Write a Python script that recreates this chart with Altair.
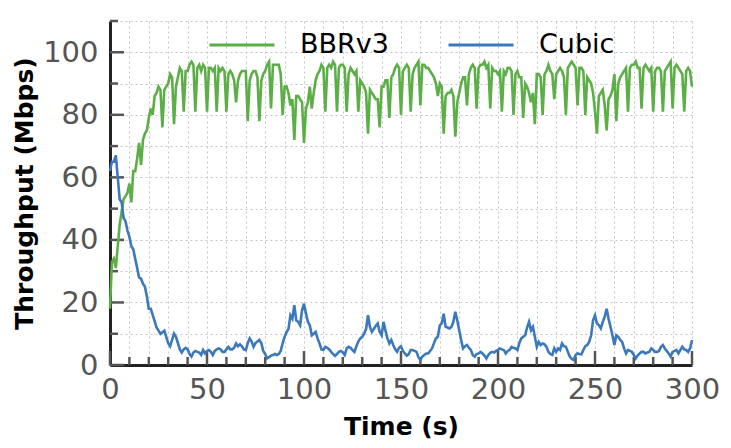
"""Throughput of a BBRv3 flow and a Cubic flow sharing a bottleneck."""

import altair as alt
import pandas as pd

# throughput per second, Mbps
bbr = [
    18, 33, 34, 31, 38, 45, 49, 53, 54, 55,
    58, 52, 62, 62, 66, 71, 64, 72, 74, 75,
    79, 82, 80, 86, 87, 89, 88, 76, 88, 89,
    90, 93, 92, 77, 89, 92, 95, 94, 81, 94,
    94, 96, 97, 96, 81, 95, 96, 94, 96, 95,
    81, 95, 95, 94, 95, 81, 95, 94, 95, 94,
    81, 93, 94, 93, 91, 84, 91, 93, 94, 94,
    94, 78, 91, 93, 94, 94, 92, 78, 91, 93,
    94, 96, 97, 82, 96, 96, 96, 96, 93, 80,
    89, 89, 87, 83, 85, 72, 86, 86, 85, 84,
    71, 82, 84, 89, 82, 87, 91, 93, 94, 96,
    95, 81, 95, 96, 95, 97, 96, 81, 95, 96,
    96, 95, 81, 93, 95, 94, 93, 94, 81, 91,
    90, 89, 87, 74, 88, 87, 86, 85, 85, 76,
    89, 89, 91, 91, 79, 92, 93, 95, 96, 95,
    80, 94, 95, 96, 95, 81, 93, 95, 96, 97,
    83, 96, 96, 95, 95, 94, 93, 92, 90, 86,
    90, 89, 74, 86, 87, 87, 88, 86, 73, 84,
    87, 90, 92, 92, 83, 93, 95, 96, 95, 82,
    95, 96, 96, 97, 95, 96, 82, 95, 94, 94,
    93, 94, 81, 94, 93, 95, 95, 94, 80, 93,
    94, 92, 92, 79, 90, 89, 87, 84, 87, 77,
    93, 93, 92, 80, 93, 94, 96, 94, 93, 85,
    93, 94, 95, 94, 92, 80, 95, 96, 97, 96,
    95, 83, 95, 95, 94, 80, 92, 91, 90, 87,
    81, 74, 86, 87, 88, 83, 75, 85, 86, 88,
    93, 78, 90, 92, 93, 94, 95, 81, 95, 96,
    96, 97, 95, 95, 82, 95, 96, 95, 94, 95,
    81, 94, 95, 95, 94, 81, 94, 95, 96, 97,
    82, 95, 96, 95, 94, 93, 81, 94, 95, 94,
    89,
]

cubic = [
    62, 65, 65, 67, 60, 53, 52, 47, 46, 43,
    41, 38, 37, 34, 31, 28, 27.6, 26, 25, 22,
    18, 18, 16, 14, 12, 11, 10, 10.5, 11, 9,
    7, 6, 8, 10, 9, 7, 5, 4, 5, 5.5,
    5, 3.5, 2.7, 4, 4.5, 4.2, 4, 3.2, 4.8, 3.7,
    4.5, 4.8, 4.2, 3.2, 4.5, 5, 5.3, 5, 4.2, 4.2,
    5, 5.8, 5, 5, 5.5, 6.9, 6, 6.6, 6, 5,
    4.8, 7, 8.5, 7.5, 5.8, 7, 7.5, 8, 7, 4.5,
    3.5, 2.1, 2.5, 3, 3.2, 3.5, 3.2, 3.5, 4.5, 6.9,
    9, 10.5, 11.5, 15.9, 14.8, 19.1, 14.3, 13.8, 12.7, 17.5,
    19.6, 16.5, 13.8, 12.7, 9.5, 10, 10.6, 8.5, 6.9, 5,
    4.8, 5.8, 5.5, 5, 4.2, 3.5, 2.9, 3.5, 4.2, 4.5,
    4, 3.2, 5.3, 5.8, 5.5, 4.8, 4.2, 6, 7.5, 8.5,
    9, 10, 11.5, 15.9, 12.2, 10.6, 11.5, 12.5, 13.3, 10.6,
    9.5, 13.8, 11, 8.5, 6.9, 8, 6.4, 5, 4.2, 5.5,
    6, 4.5, 3.7, 3, 3.5, 4.8, 4.8, 4.5, 4.2, 2.5,
    1.6, 2.7, 3.2, 3.7, 3.7, 4.5, 5.3, 7, 8.5, 9,
    12.7, 13.3, 16.4, 12.2, 12, 11.7, 12.2, 13.8, 17, 14.3,
    11.1, 8, 5.3, 6, 6.4, 5.5, 4.8, 3.2, 2.7, 3.5,
    3.7, 4.2, 3.7, 3, 2.1, 3.2, 3.9, 4.2, 4, 4.5,
    4.8, 5.3, 5, 4.8, 3.7, 4.5, 4.8, 5.8, 5.5, 5.3,
    4.8, 7, 8.5, 9, 9.5, 12, 13.8, 11.1, 12.2, 9,
    5.8, 7.4, 6.4, 6.9, 6.6, 5.8, 4.2, 3.5, 3.2, 5.3,
    4.2, 5.3, 4.8, 6.9, 6, 5.8, 4.2, 2.7, 2, 1.6,
    3.2, 3.7, 3.5, 3.4, 4.8, 6, 6.4, 7.4, 9.5, 14.3,
    15.9, 13.3, 12.7, 11.7, 13.8, 15.4, 18, 14.8, 12.2, 9.5,
    6.4, 9.5, 9, 8, 7.4, 5.3, 3.7, 4.8, 4.5, 4.2,
    3.2, 2.1, 3, 3.7, 4.2, 4.2, 3.7, 4, 4.2, 5.3,
    4.8, 4.2, 4.2, 4.5, 5.8, 6.4, 5.3, 4.5, 3.7, 2.7,
    4.2, 4.5, 4.8, 3.7, 4.8, 5.8, 5, 4.8, 4.2, 5.3,
    8,
]

time_s = list(range(len(bbr)))

flows = ["BBRv3", "Cubic"]
flow_colors = ["#5cae46", "#3c79bc"]

# grid every 10, labels / long ticks on the majors
x_grid = list(range(0, 301, 10))
y_grid = list(range(0, 111, 10))
x_major = list(range(0, 301, 50))
y_major = list(range(0, 101, 20))
x_minor = [v for v in x_grid if v not in x_major]
y_minor = [v for v in y_grid if v not in y_major]

W, H = 582, 344
FONT = "DejaVu Sans"

df = pd.DataFrame({
    "Time": time_s + time_s,
    "Throughput": bbr + cubic,
    "Flow": [flows[0]] * len(bbr) + [flows[1]] * len(cubic),
})

x_title = "Time (s)"
y_title = "Throughput (Mbps)"

x_axis = alt.Axis(
    values=x_grid, labelExpr="datum.value % 50 === 0 ? datum.label : ''",
    labelOverlap=False, ticks=False, tickSize=0, labelPadding=10, labelFlush=False,
    labelFont=FONT, labelFontSize=29, labelColor="#555",
    grid=True, gridDash=[2, 3], gridColor="#c4c4c4", gridWidth=1,
    domainColor="#222", domainWidth=3,
    titleFont=FONT, titleFontSize=25, titleFontWeight="bold", titleColor="#000",
    titleY=69, titleBaseline="alphabetic",
)
y_axis = alt.Axis(
    values=y_grid, labelExpr="datum.value % 20 === 0 ? datum.label : ''",
    labelOverlap=False, ticks=False, tickSize=0, labelPadding=12, labelFlush=False,
    labelFont=FONT, labelFontSize=29, labelColor="#555",
    grid=True, gridDash=[2, 3], gridColor="#c4c4c4", gridWidth=1,
    domainColor="#222", domainWidth=3,
    titleFont=FONT, titleFontSize=25, titleFontWeight="bold", titleColor="#000",
    titleX=-78, titleY=H / 2, titleBaseline="alphabetic", titleAlign="center",
)
x_scale = alt.Scale(domain=[0, 300], nice=False, zero=False)
y_scale = alt.Scale(domain=[0, 110], nice=False)

lines = alt.Chart(df).mark_line(strokeWidth=2.6).encode(
    x=alt.X("Time:Q", title=x_title, axis=x_axis, scale=x_scale),
    y=alt.Y("Throughput:Q", title=y_title, axis=y_axis, scale=y_scale),
    color=alt.Color("Flow:N", scale=alt.Scale(domain=flows, range=flow_colors),
                    legend=alt.Legend(
                        orient="none", legendX=98, legendY=-10,
                        direction="horizontal", title=None, padding=0,
                        symbolType="stroke", symbolSize=4225, symbolStrokeWidth=3,
                        labelFont=FONT, labelFontSize=27, labelColor="#000",
                        labelOffset=24, columnPadding=53)),
)


def x_ticks(values, length):
    return alt.Chart(pd.DataFrame({"Time": values})).mark_rule(
        color="#555", strokeWidth=2.5).encode(
        x=alt.X("Time:Q", title=x_title, axis=x_axis, scale=x_scale),
        y=alt.value(H), y2=alt.value(H - length))


def y_ticks(values, length):
    return alt.Chart(pd.DataFrame({"Throughput": values})).mark_rule(
        color="#555", strokeWidth=2.5).encode(
        y=alt.Y("Throughput:Q", title=y_title, axis=y_axis, scale=y_scale),
        x=alt.value(0), x2=alt.value(length))


chart = alt.layer(
    x_ticks(x_minor, 8), x_ticks(x_major, 14),
    y_ticks(y_minor, 8), y_ticks(y_major, 14),
    lines,
).properties(
    width=W, height=H,
    padding={"left": 102, "top": 13, "right": 30, "bottom": 75},
    autosize=alt.AutoSizeParams(type="none"),
).configure_view(stroke=None)

chart.save("out.html", embed_options={"renderer": "svg", "actions": False})
